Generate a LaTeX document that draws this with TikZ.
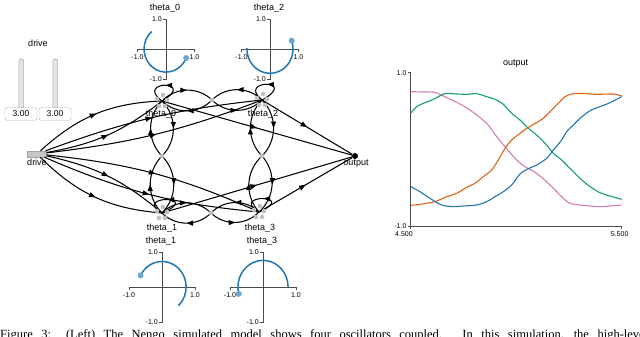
\documentclass[tikz,border=0pt]{standalone}
\usepackage{fontspec}
\setmainfont{Liberation Sans}
\newfontfamily\capfont{Liberation Serif}
\usetikzlibrary{arrows.meta,decorations.markings}
\definecolor{tblue}{RGB}{31,119,180}
\definecolor{porange}{RGB}{222,100,25}
\definecolor{pgreen}{RGB}{20,158,115}
\definecolor{ppink}{RGB}{214,125,180}
\definecolor{dotgrey}{RGB}{192,192,192}
\newcommand\polarplot[5]{%
  \node[lbl] at ({#1-1},{#2-#4-10.5}) {#5};
  \draw[ax] ({#1-#3},{#2+3}) -- ({#1-#3},#2) -- ({#1+#3},#2) -- ({#1+#3},{#2+3});
  \draw[ax] ({#1-3},{#2-#4}) -- (#1,{#2-#4}) -- (#1,{#2+#4}) -- ({#1-3},{#2+#4});
  \node[tick] at ({#1-#3},{#2+8}) {-1.0};
  \node[tick] at ({#1+#3},{#2+8}) {1.0};
  \node[tick,anchor=east] at ({#1-4},{#2-#4}) {1.0};
  \node[tick,anchor=east] at ({#1-4},{#2+#4}) {-1.0};}
\newcommand\polartrace[7]{%
  \begin{scope}[shift={(#1,#2)}, x=#3pt, y=#4pt]
    \draw[trace] (#5:#7) arc[start angle=#5, end angle=#6, radius=#7];
  \end{scope}}
\newcommand\polardot[6]{%
  \begin{scope}[shift={(#1,#2)}, x=#3pt, y=#4pt]
    \fill[tblue!65] (#5:#6) circle[radius=3pt];
  \end{scope}}
\newcommand\netdots[1]{\foreach \dx/\dy in {1/-6,-5/-2,5/-1,-3/5,3/5}{\fill[dotgrey] (#1) ++(\dx,\dy) circle[radius=2.3pt];}}
\begin{document}
\begin{tikzpicture}[x=1pt,y=-1pt,
  lbl/.style={font=\fontsize{9}{10}\selectfont, inner sep=0pt},
  tick/.style={font=\fontsize{7}{8}\selectfont, inner sep=0pt},
  ax/.style={line width=0.7pt, black!70},
  trace/.style={tblue, line width=1.5pt, line join=round},
  pcurve/.style={line width=1.1pt, line join=round},
  conn/.style={line width=1.05pt, black, postaction={decorate},
    decoration={markings, mark=at position 0.5 with {\arrow{Triangle[length=6.5pt,width=5pt]}}}}]
\useasboundingbox (0,0) rectangle (640,337);
\fill[white] (0,0) rectangle (640,337);

% ---------- sliders ----------
\node[lbl] (sliderlbl) at (38,43) {drive};
\draw[fill=gray!22, draw=gray!60, rounded corners=2pt, line width=0.6pt] (18.8,59) rectangle (23.6,109);
\draw[fill=gray!22, draw=gray!60, rounded corners=2pt, line width=0.6pt] (52.8,59) rectangle (57.6,109);
\node[draw=gray!65, fill=white, rounded corners=2pt, minimum width=32pt, minimum height=12.5pt, inner sep=0pt,
  font=\fontsize{8.5}{9}\selectfont] (box1) at (21,114) {3.00};
\node[draw=gray!65, fill=white, rounded corners=2pt, minimum width=32pt, minimum height=12.5pt, inner sep=0pt,
  font=\fontsize{8.5}{9}\selectfont] (box2) at (55,114) {3.00};

% ---------- polar plots ----------
\polarplot{166}{49}{28.5}{30}{theta\_0}
\polarplot{270}{49}{28.5}{30}{theta\_2}
\polarplot{162}{287}{33}{35}{theta\_1}
\polarplot{263}{287}{33}{35}{theta\_3}
\polartrace{166}{49}{28.5}{30}{131}{337}{0.77}
\polardot{166}{49}{28.5}{30}{337}{0.77}
\polartrace{270}{49}{28.5}{30}{178}{380}{0.81}
\polardot{270}{49}{28.5}{30}{20}{0.81}
\polartrace{162}{287}{33}{35}{153}{-47}{0.73}
\polardot{162}{287}{33}{35}{153}{0.73}
\polartrace{263}{287}{33}{35}{195}{0}{0.76}
\polardot{263}{287}{33}{35}{195}{0.76}

% ---------- network nodes ----------
\node[draw=gray!70, fill=gray!45, minimum width=19pt, minimum height=6pt, inner sep=0pt] (drive) at (37,154) {};
\coordinate (t0) at (162,101);
\coordinate (t2) at (262,100);
\coordinate (t1) at (162,213);
\coordinate (t3) at (259,212);
\coordinate (c02) at (212,100);
\coordinate (c01) at (162,156);
\coordinate (c23) at (262,156);
\coordinate (c13) at (211,213);
\node[circle, fill=black, inner sep=0pt, minimum size=6pt] (out) at (355,156) {};

% coupling arcs
\draw[conn] (t0) to[bend left=45] (c02);
\draw[conn] (c02) to[bend left=45] (t0);
\draw[conn] (t2) to[bend right=45] (c02);
\draw[conn] (c02) to[bend right=45] (t2);
\draw[conn] (t1) to[bend left=45] (c13);
\draw[conn] (c13) to[bend left=45] (t1);
\draw[conn] (t3) to[bend right=45] (c13);
\draw[conn] (c13) to[bend right=45] (t3);
\draw[conn] (t0) to[bend left=45] (c01);
\draw[conn] (c01) to[bend left=45] (t0);
\draw[conn] (t1) to[bend left=45] (c01);
\draw[conn] (c01) to[bend left=45] (t1);
\draw[conn] (t2) to[bend left=45] (c23);
\draw[conn] (c23) to[bend left=45] (t2);
\draw[conn] (t3) to[bend left=45] (c23);
\draw[conn] (c23) to[bend left=45] (t3);

% recurrent loops
\draw[conn] (t0) .. controls +(36,-21) and +(-28,-21) .. (t0);
\draw[conn] (t2) .. controls +(38,-21) and +(-26,-21) .. (t2);
\draw[conn] (t1) .. controls +(42,-18) and +(-30,-18) .. (t1);
\draw[conn] (t3) .. controls +(40,-18) and +(-30,-18) .. (t3);

% drive connections
\draw[conn] (drive) to[bend left=20] (t0);
\draw[conn] (drive) to[bend right=14] (t0);
\draw[conn] (drive) to[bend left=7] (t2);
\draw[conn] (drive) to[bend right=7] (t2);
\draw[conn] (drive) to[bend left=14] (t1);
\draw[conn] (drive) to[bend right=20] (t1);
\draw[conn] (drive) to[bend left=9] (t3);
\draw[conn] (drive) to[bend right=9] (t3);

% output connections
\draw[conn] (t0) -- (out);
\draw[conn] (t2) -- (out);
\draw[conn] (t1) -- (out);
\draw[conn] (t3) -- (out);

% node icons
\netdots{t0}
\netdots{t2}
\netdots{t1}
\netdots{t3}
\fill[dotgrey] (c02) circle[radius=2.3pt];
\fill[dotgrey] (c01) circle[radius=2.3pt];
\fill[dotgrey] (c23) circle[radius=2.3pt];
\fill[dotgrey] (c13) circle[radius=2.3pt];

% labels
\node[lbl] (drivelbl) at (37,162) {drive};
\node[lbl] (t0lbl) at (161,114.5) {theta\_0};
\node[lbl] (t2lbl) at (263,114.5) {theta\_2};
\node[lbl] (t1lbl) at (162,228) {theta\_1};
\node[lbl] (t3lbl) at (260,228) {theta\_3};
\node[lbl] (outlbl) at (356,164) {output};

% ---------- output plot ----------
\begin{scope}[shift={(380,50)}, x=0.33333pt, y=-0.33333pt]
  \node[lbl] (otitle) at (407,42) {output};
  \draw[ax] (84,68) -- (92,68) -- (92,528) -- (725,528) -- (725,536);
  \draw[ax] (84,528) -- (92,528) -- (92,536);
  \node[tick, anchor=east] (y1) at (80,68) {1.0};
  \node[tick, anchor=east] (y0) at (80,528) {-1.0};
  \node[tick] (x0) at (72,552) {4.500};
  \node[tick] (x1) at (719,552) {5.500};
  \draw[pcurve, ppink] plot[smooth] coordinates {(92,125) (130,126) (165,127) (200,143) (240,162) (270,180) (320,220) (350,260) (375,290) (410,330) (435,350) (470,370) (510,405) (545,440) (570,460) (610,466) (660,470) (725,465)};
  \draw[pcurve, pgreen] plot[smooth] coordinates {(92,190) (110,170) (130,160) (160,148) (195,131) (230,132) (260,133) (290,131) (320,140) (345,148) (370,163) (395,190) (420,210) (445,235) (470,255) (500,285) (520,310) (545,330) (570,355) (600,385) (630,410) (660,428) (690,438) (725,448)};
  \draw[pcurve, porange] plot[smooth] coordinates {(92,466) (120,463) (165,455) (200,440) (230,430) (260,412) (285,400) (310,380) (335,360) (355,330) (375,295) (395,270) (420,250) (445,232) (475,215) (490,205) (510,185) (535,160) (555,140) (575,132) (600,130) (650,133) (700,132) (725,138)};
  \draw[pcurve, tblue] plot[smooth] coordinates {(92,410) (120,425) (150,445) (185,465) (220,470) (250,468) (290,465) (320,455) (345,440) (370,425) (395,405) (420,372) (445,356) (470,345) (500,325) (520,300) (545,270) (560,245) (580,225) (600,205) (630,182) (660,170) (690,158) (725,140)};
\end{scope}

% ---------- caption (cut off at the lower edge, as in the reference) ----------
\begin{scope}
  \clip (0,0) rectangle (640,337);
  \node[anchor=base west, inner sep=0pt] (caption) at (0,338.5)
    {\capfont\fontsize{12.5}{14}\selectfont\makebox[648pt][s]{Figure 3: (Left) The Nengo simulated model shows four oscillators coupled. In this simulation, the high-level}};
\end{scope}
\end{tikzpicture}
\end{document}
